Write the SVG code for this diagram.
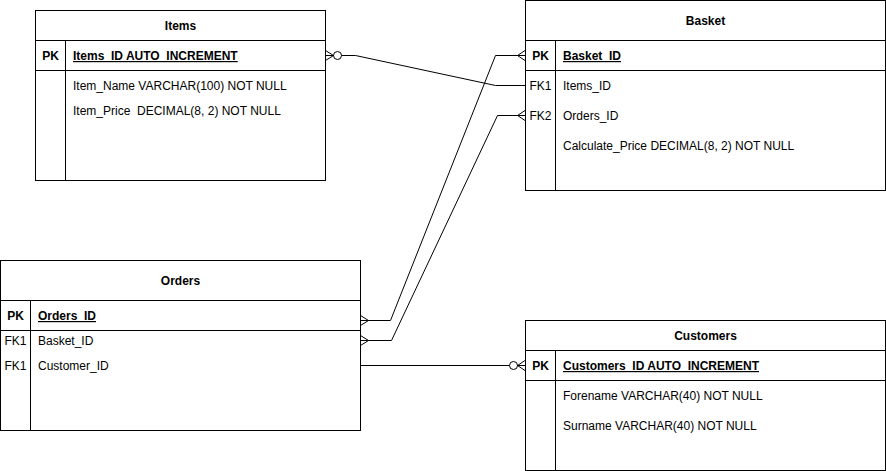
<svg xmlns="http://www.w3.org/2000/svg" width="886" height="471" viewBox="0 0 886 471">
<style>
.box{fill:#fff;stroke:#000;stroke-width:1}
.ln{fill:none;stroke:#000;stroke-width:1}
text{font-family:"Liberation Sans",Arial,sans-serif;font-size:12px;fill:#000;white-space:pre}
.t{font-weight:bold;text-anchor:middle}
.k{font-weight:bold;text-anchor:middle}
.kk{text-anchor:middle}
.pk{font-weight:bold;text-decoration:underline}
</style>
<rect width="886" height="471" fill="#fff"/>
<g id="connectors">
  <!-- Items PK to Basket FK1 -->
  <path class="ln" d="M341.5,55.5 H355.5 L495.5,85.5 H525"/>
  <path class="ln" d="M325.5,50.5 L333.5,55.5 L325.5,60.5 M325.5,55.5 H333.5"/>
  <circle class="ln" cx="337.5" cy="55.5" r="4"/>
  <!-- Basket PK to Orders PK -->
  <path class="ln" d="M525,55.5 H495.5 L390.5,320.5 H360.5"/>
  <path class="ln" d="M525,50.5 L517.5,55.5 L525,60.5"/>
  <path class="ln" d="M360.5,315.5 L368.5,320.5 L360.5,325.5"/>
  <!-- Basket FK2 to Orders Basket_ID -->
  <path class="ln" d="M525,115.5 H497.5 L391.5,340.5 H360.5"/>
  <path class="ln" d="M525,110.5 L517.5,115.5 L525,120.5"/>
  <path class="ln" d="M360.5,335.5 L368.5,340.5 L360.5,345.5"/>
  <!-- Orders Customer_ID to Customers PK -->
  <path class="ln" d="M360.5,365.5 H509.5 M517.5,365.5 H525"/>
  <circle class="ln" cx="513.5" cy="365.5" r="4"/>
  <path class="ln" d="M525,360.5 L517.5,365.5 L525,370.5"/>
</g>
<g id="items">
  <rect class="box" x="35.5" y="10.5" width="290" height="170"/>
  <path class="ln" d="M35.5,40.5 H325.5 M35.5,70.5 H325.5 M65.5,40.5 V180.5"/>
  <text class="t" x="180.5" y="30">Items</text>
  <text class="k" x="50.5" y="60">PK</text>
  <text class="pk" x="73" y="60">Items_ID AUTO_INCREMENT</text>
  <text x="73" y="90">Item_Name VARCHAR(100) NOT NULL</text>
  <text x="73" y="115" xml:space="preserve">Item_Price  DECIMAL(8, 2) NOT NULL</text>
</g>
<g id="basket">
  <rect class="box" x="525.5" y="0.5" width="360" height="190"/>
  <path class="ln" d="M525.5,40.5 H885.5 M525.5,70.5 H885.5 M555.5,40.5 V190.5"/>
  <text class="t" x="705.5" y="25">Basket</text>
  <text class="k" x="540.5" y="60">PK</text>
  <text class="pk" x="563" y="60">Basket_ID</text>
  <text class="kk" x="540.5" y="90">FK1</text>
  <text x="563" y="90">Items_ID</text>
  <text class="kk" x="540.5" y="120">FK2</text>
  <text x="563" y="120">Orders_ID</text>
  <text x="563" y="150">Calculate_Price DECIMAL(8, 2) NOT NULL</text>
</g>
<g id="orders">
  <rect class="box" x="0.5" y="260.5" width="360" height="170"/>
  <path class="ln" d="M0.5,300.5 H360.5 M0.5,330.5 H360.5 M30.5,300.5 V430.5"/>
  <text class="t" x="180.5" y="285">Orders</text>
  <text class="k" x="15.5" y="320">PK</text>
  <text class="pk" x="38" y="320">Orders_ID</text>
  <text class="kk" x="15.5" y="345">FK1</text>
  <text x="38" y="345">Basket_ID</text>
  <text class="kk" x="15.5" y="370">FK1</text>
  <text x="38" y="370">Customer_ID</text>
</g>
<g id="customers">
  <rect class="box" x="525.5" y="320.5" width="360" height="150"/>
  <path class="ln" d="M525.5,350.5 H885.5 M525.5,380.5 H885.5 M555.5,350.5 V470.5"/>
  <text class="t" x="705.5" y="340">Customers</text>
  <text class="k" x="540.5" y="370">PK</text>
  <text class="pk" x="563" y="370">Customers_ID AUTO_INCREMENT</text>
  <text x="563" y="400">Forename VARCHAR(40) NOT NULL</text>
  <text x="563" y="430">Surname VARCHAR(40) NOT NULL</text>
</g>
</svg>
